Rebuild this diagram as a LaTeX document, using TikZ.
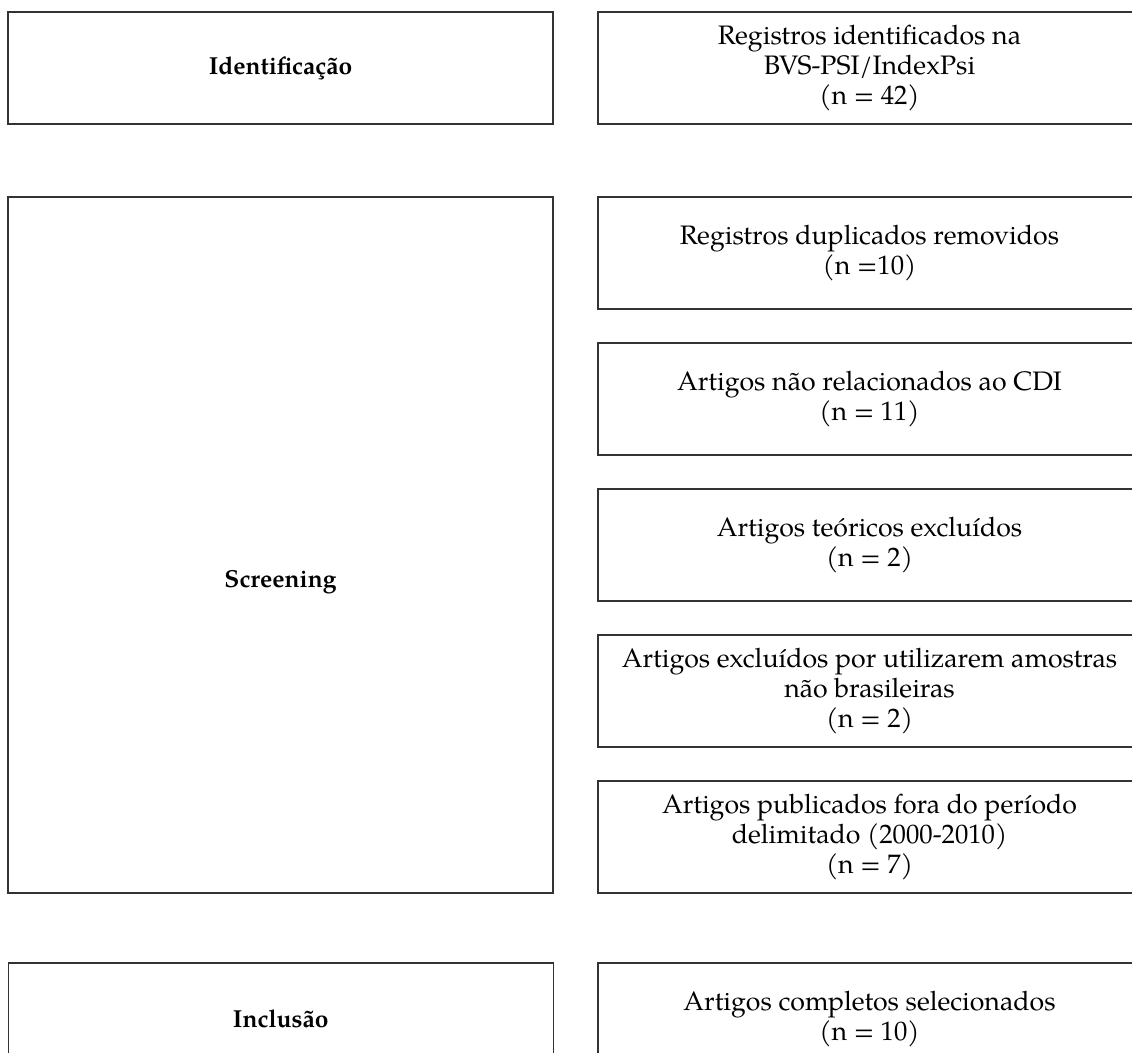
\documentclass[tikz,border=0pt]{standalone}
\usepackage{fontspec}
\setmainfont{TeX Gyre Pagella}
\usetikzlibrary{positioning}

\tikzset{
  caixa/.style={draw=black!80, line width=0.8pt, minimum width=10.86cm, minimum height=2.24cm,
    inner sep=0pt, align=center, font=\fontsize{15.2}{17.3}\selectfont},
  rotulo/.style={font=\fontsize{14}{16}\selectfont\bfseries},
  etapa/.style={caixa, rotulo, minimum width=10.9cm}
}

\begin{document}
\begin{tikzpicture}[x=0.02cm, y=-0.02cm]
      \useasboundingbox (0,0) rectangle (1132,1053);
      \clip (0,0) rectangle (1132,1053);
      % identificacao
      \node[etapa] (ident) at (280.5,68) {Identificação};
      \node[caixa] (reg) at (869.5,68) {Registros identificados na\\BVS-PSI/IndexPsi\\(n = 42)};
      % screening
      \node[etapa, minimum height=13.92cm] (screen) at (280.5,545) {};
      \node[rotulo] (screentxt) at (280.5,582) {Screening};
      \foreach \n/\txt [count=\i from 0] in {dup/{Registros duplicados removidos\\(n =10)},
          cdi/{Artigos não relacionados ao CDI\\(n = 11)},
          teor/{Artigos teóricos excluídos\\(n = 2)},
          amost/{Artigos excluídos por utilizarem amostras\\não brasileiras\\(n = 2)},
          periodo/{Artigos publicados fora do período\\delimitado (2000-2010)\\(n = 7)}}
      \node[caixa] (\n) at (869.5,{253+146*\i}) {\txt};
      % inclusao
      \node[etapa] (incl) at (280.8,1019) {Inclusão};
      \node[caixa] (comp) at (869.5,1019) {Artigos completos selecionados\\(n = 10)};
\end{tikzpicture}
\end{document}
